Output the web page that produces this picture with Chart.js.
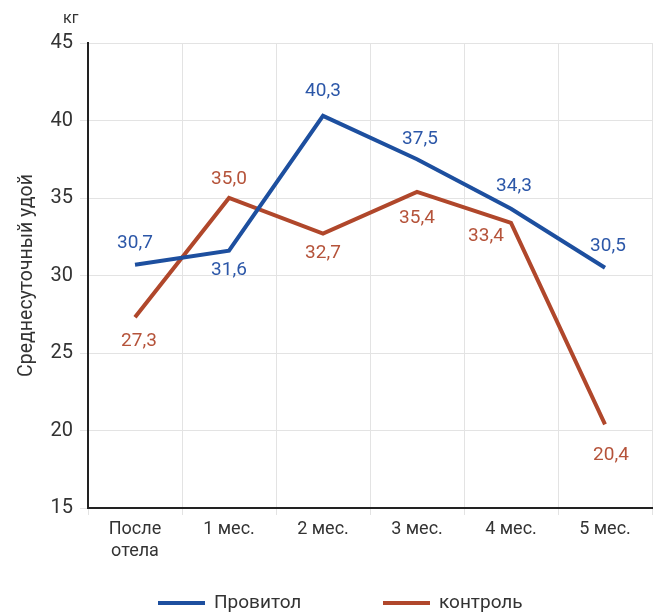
<!DOCTYPE html>
<html>
<head>
<meta charset="utf-8">
<script src="https://cdn.jsdelivr.net/npm/chart.js@4"></script>
<style>
  html, body { margin: 0; padding: 0; background: #fff; }
  #wrap { width: 654px; height: 613px; }
</style>
</head>
<body>
<div id="wrap"><canvas id="milkChart" width="654" height="613"></canvas></div>
<script>
const categories = [['После', 'отела'], '1 мес.', '2 мес.', '3 мес.', '4 мес.', '5 мес.'];
const provitol = [30.7, 31.6, 40.3, 37.5, 34.3, 30.5];
const control = [27.3, 35.0, 32.7, 35.4, 33.4, 20.4];
const yTicks = [15, 20, 25, 30, 35, 40, 45];

const FONT = "Roboto, 'Liberation Sans', sans-serif";
const BLUE = '#1d4f9f';
const RED = '#b0472b';

// where each value label sits relative to its point [dx, dy]
const labelOffsets = {
  0: [[0, -21], [0, 20], [0, -25], [3, -20], [3, -23], [3, -22]],
  1: [[4, 24], [0, -19], [0, 20], [0, 26], [-25, 13], [6, 31]],
};

const valueLabels = {
  id: 'valueLabels',
  afterDatasetsDraw(chart) {
    const ctx = chart.ctx;
    ctx.save();
    ctx.font = '19px ' + FONT;
    ctx.textAlign = 'center';
    ctx.textBaseline = 'middle';
    chart.data.datasets.forEach((ds, i) => {
      const meta = chart.getDatasetMeta(i);
      ctx.fillStyle = ds.labelColor;
      meta.data.forEach((pt, j) => {
        const off = labelOffsets[i][j];
        const txt = ds.data[j].toFixed(1).replace('.', ',');
        ctx.fillText(txt, pt.x + off[0], pt.y + off[1]);
      });
    });
    ctx.restore();
  }
};

// unit mark above axis + legend at the bottom
const extras = {
  id: 'extras',
  afterDraw(chart) {
    const ctx = chart.ctx;
    const area = chart.chartArea;
    ctx.save();
    ctx.fillStyle = '#333';
    ctx.font = '16px ' + FONT;
    ctx.textAlign = 'left';
    ctx.textBaseline = 'middle';
    ctx.fillText('кг', area.left - 25, 19);

    const items = [{ x: 158 }, { x: 383 }];
    ctx.font = '19px ' + FONT;
    chart.data.datasets.forEach((ds, i) => {
      const x = items[i].x;
      const y = 603;
      ctx.strokeStyle = ds.borderColor;
      ctx.lineWidth = 4;
      ctx.beginPath();
      ctx.moveTo(x, y);
      ctx.lineTo(x + 47, y);
      ctx.stroke();
      ctx.fillStyle = '#333';
      ctx.fillText(ds.label, x + 56, y);
    });
    ctx.restore();
  }
};

new Chart(document.getElementById('milkChart'), {
  type: 'line',
  data: {
    labels: categories,
    datasets: [
      {
        label: 'Провитол',
        data: provitol,
        borderColor: BLUE,
        backgroundColor: BLUE,
        labelColor: '#2c57a8',
        borderWidth: 4,
        pointRadius: 0,
        tension: 0,
        fill: false,
      },
      {
        label: 'контроль',
        data: control,
        borderColor: RED,
        backgroundColor: RED,
        labelColor: '#b5533a',
        borderWidth: 4,
        pointRadius: 0,
        tension: 0,
        fill: false,
      },
    ],
  },
  options: {
    responsive: false,
    animation: false,
    layout: { padding: { top: 43, right: 2, left: 0, bottom: 0 } },
    plugins: {
      legend: { display: false },
      tooltip: { enabled: false },
    },
    scales: {
      x: {
        offset: true,
        grid: { offset: true, color: '#e3e3e3', lineWidth: 1, tickLength: 7 },
        border: { color: '#222', width: 2 },
        ticks: {
          color: '#333',
          font: { family: FONT, size: 18 },
          padding: 4,
          maxRotation: 0,
        },
        afterFit(scale) { scale.height = 105; },
      },
      y: {
        min: 15,
        max: 45,
        afterBuildTicks(scale) { scale.ticks = yTicks.map(v => ({ value: v })); },
        grid: { color: '#e3e3e3', lineWidth: 1, tickLength: 8 },
        border: { color: '#222', width: 2 },
        ticks: {
          color: '#333',
          font: { family: FONT, size: 20 },
          padding: 7,
        },
        title: {
          display: true,
          text: 'Среднесуточный удой',
          color: '#333',
          font: { family: FONT, size: 19.5 },
          padding: { top: 15, bottom: 0 },
        },
        afterFit(scale) { scale.width = 88; },
      },
    },
  },
  plugins: [valueLabels, extras],
});
</script>
</body>
</html>
